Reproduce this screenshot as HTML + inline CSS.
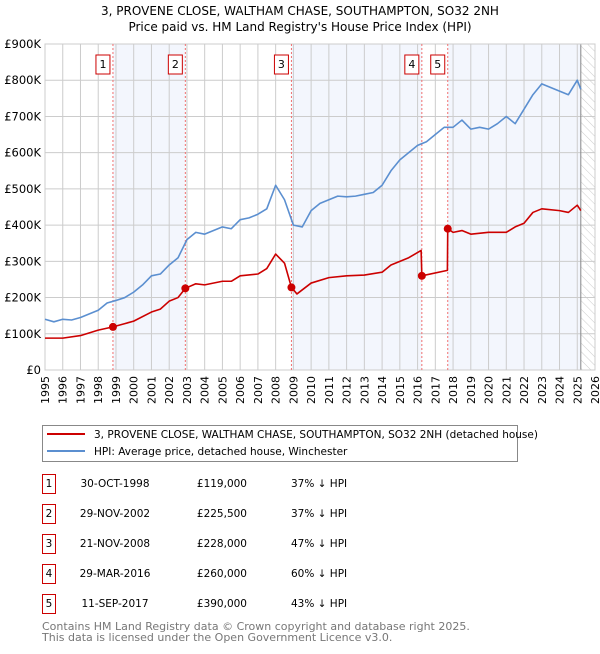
<!DOCTYPE html>
<html><head><meta charset="utf-8"><style>
body{margin:0;background:#fff;width:600px;height:650px;overflow:hidden;font-family:"DejaVu Sans","Liberation Sans",sans-serif}
svg text{font-family:"DejaVu Sans","Liberation Sans",sans-serif}
</style></head><body>
<svg id="c" width="600" height="650" xmlns="http://www.w3.org/2000/svg">
<defs><pattern id="hatch" width="6" height="6" patternUnits="userSpaceOnUse" patternTransform="rotate(-45)"><line x1="0" y1="0" x2="0" y2="6" stroke="#ccc" stroke-width="1"/></pattern></defs>
<text x="300" y="15" text-anchor="middle" font-size="12">3, PROVENE CLOSE, WALTHAM CHASE, SOUTHAMPTON, SO32 2NH</text>
<text x="300" y="31" text-anchor="middle" font-size="12">Price paid vs. HM Land Registry's House Price Index (HPI)</text>
<g id="plot"></g>
<g>
<rect x="42.5" y="425.5" width="475" height="36" fill="#fff" stroke="#888"/>
<line x1="47" y1="434" x2="85" y2="434" stroke="#cc0000" stroke-width="2"/>
<text x="94" y="438" font-size="10.5">3, PROVENE CLOSE, WALTHAM CHASE, SOUTHAMPTON, SO32 2NH (detached house)</text>
<line x1="47" y1="451" x2="85" y2="451" stroke="#5b8fd0" stroke-width="2"/>
<text x="94" y="455" font-size="10.5">HPI: Average price, detached house, Winchester</text>
</g>
<g id="table"></g>
<text x="42" y="630" font-size="11" fill="#777">Contains HM Land Registry data © Crown copyright and database right 2025.</text>
<text x="42" y="641" font-size="11" fill="#777">This data is licensed under the Open Government Licence v3.0.</text>
</svg>
<script>
const hpiYears=[1995,1995.5,1996,1996.5,1997,1997.5,1998,1998.5,1999,1999.5,2000,2000.5,2001,2001.5,2002,2002.5,2003,2003.5,2004,2004.5,2005,2005.5,2006,2006.5,2007,2007.5,2008,2008.5,2009,2009.5,2010,2010.5,2011,2011.5,2012,2012.5,2013,2013.5,2014,2014.5,2015,2015.5,2016,2016.5,2017,2017.5,2018,2018.5,2019,2019.5,2020,2020.5,2021,2021.5,2022,2022.5,2023,2023.5,2024,2024.5,2025,2025.2];
const hpiValues=[140,133,140,138,145,155,165,185,192,200,215,235,260,265,290,310,360,380,375,385,395,390,415,420,430,445,510,470,400,395,440,460,470,480,478,480,485,490,510,550,580,600,620,630,650,670,670,690,665,670,665,680,700,680,720,760,790,780,770,760,800,775];
const priceYears=[1995,1996,1997,1998,1998.83,1999.5,2000,2001,2001.5,2002,2002.5,2002.91,2003.5,2004,2005,2005.5,2006,2007,2007.5,2008,2008.5,2008.89,2009.2,2010,2011,2012,2013,2014,2014.5,2015,2015.5,2016.2,2016.24,2017.68,2017.7,2018,2018.5,2019,2020,2021,2021.5,2022,2022.5,2023,2024,2024.5,2025,2025.2];
const priceValues=[88,88,95,110,119,128,135,160,168,190,200,225.5,238,235,245,245,260,265,280,320,295,228,210,240,255,260,262,270,290,300,310,330,260,275,390,380,385,375,380,380,395,405,435,445,440,435,455,440];
const saleLabels=["1","2","3","4","5"];
const saleYears=[1998.83,2002.91,2008.89,2016.24,2017.7];
const salePrices=[119,225.5,228,260,390];
const saleDates=["30-OCT-1998","29-NOV-2002","21-NOV-2008","29-MAR-2016","11-SEP-2017"];
const salePriceText=["£119,000","£225,500","£228,000","£260,000","£390,000"];
const saleHpiText=["37% ↓ HPI","37% ↓ HPI","47% ↓ HPI","60% ↓ HPI","43% ↓ HPI"];
const yTicks=[0,100,200,300,400,500,600,700,800,900];
const yTickLabels=["£0","£100K","£200K","£300K","£400K","£500K","£600K","£700K","£800K","£900K"];
const xTicks=[1995,1996,1997,1998,1999,2000,2001,2002,2003,2004,2005,2006,2007,2008,2009,2010,2011,2012,2013,2014,2015,2016,2017,2018,2019,2020,2021,2022,2023,2024,2025,2026];

const L=45,R=595,T=44,B=370,X0=1995,X1=2026,YMAX=900,dataEnd=2025.2;
const xs=v=>L+(v-X0)/(X1-X0)*(R-L);
const ys=v=>B-v/YMAX*(B-T);
const NS="http://www.w3.org/2000/svg";
function mk(tag,attrs,parent,text){const e=document.createElementNS(NS,tag);for(const k in attrs)e.setAttribute(k,attrs[k]);if(text!==undefined)e.textContent=text;parent.appendChild(e);return e;}
const g=document.getElementById('plot');
const bg=mk('rect',{x:L,y:T,width:R-L,height:B-T,fill:'#fff'},g);


const spans=[[saleYears[0],saleYears[1]],[saleYears[2],saleYears[3]],[saleYears[4],dataEnd]];
spans.forEach(s=>{const r=mk('rect',{x:xs(s[0]),y:T,width:xs(s[1])-xs(s[0]),height:B-T,fill:'#f3f6fd'},g);

});
const h=mk('rect',{x:xs(dataEnd),y:T,width:R-xs(dataEnd),height:B-T,fill:'url(#hatch)'},g);


xTicks.forEach(t=>{const l=mk('line',{x1:xs(t),y1:T,x2:xs(t),y2:B,stroke:'#ccc','stroke-width':1},g);


const tx=mk('text',{x:0,y:0,'font-size':11,'text-anchor':'end',transform:`translate(${xs(t)+4},${B+6}) rotate(-90)`},g,String(t));

});
yTicks.forEach((t,i)=>{const l=mk('line',{x1:L,y1:ys(t),x2:R,y2:ys(t),stroke:'#ccc','stroke-width':1},g);


const tx=mk('text',{x:L-4,y:ys(t)+4,'font-size':11.5,'text-anchor':'end'},g,yTickLabels[i]);

});
mk('line',{x1:xs(dataEnd),y1:T,x2:xs(dataEnd),y2:B,stroke:'#888','stroke-width':1},g);
mk('rect',{x:L,y:T,width:R-L,height:B-T,fill:'none',stroke:'#ccc'},g);
saleYears.forEach((y,i)=>{const l=mk('line',{x1:xs(y),y1:T,x2:xs(y),y2:B,stroke:'#f07070','stroke-width':1,'stroke-dasharray':'2,2'},g);


const bx=mk('rect',{x:xs(y)-17,y:55,width:14,height:19,fill:'#fff',stroke:'#cc0000'},g);


mk('text',{x:xs(y)-10,y:68,'font-size':11,'text-anchor':'middle'},g,saleLabels[i]);});
function line(xa,va,col,name){const p=mk('polyline',{points:xa.map((x,i)=>xs(x)+','+ys(va[i])).join(' '),fill:'none',stroke:col,'stroke-width':1.6,'stroke-linejoin':'round'},g);

}
line(hpiYears,hpiValues,'#5b8fd0','hpi-line');
line(priceYears,priceValues,'#cc0000','price-line');
saleYears.forEach((y,i)=>{const c=mk('circle',{cx:xs(y),cy:ys(salePrices[i]),r:4,fill:'#cc0000'},g);

});
const tb=document.getElementById('table');
saleLabels.forEach((s,i)=>{const cy=483+i*30;
const bx=mk('rect',{x:42.5,y:cy-8.5,width:13,height:19,fill:'#fff',stroke:'#cc0000'},tb);


mk('text',{x:49,y:cy+4,'font-size':10.5,'text-anchor':'middle'},tb,s);
const d=mk('text',{x:115,y:cy+4,'font-size':10.5,'text-anchor':'middle'},tb,saleDates[i]);


const p=mk('text',{x:247,y:cy+4,'font-size':10.5,'text-anchor':'end'},tb,salePriceText[i]);


const hp=mk('text',{x:291,y:cy+4,'font-size':10.5},tb,saleHpiText[i]);

});
</script>
</body></html>
